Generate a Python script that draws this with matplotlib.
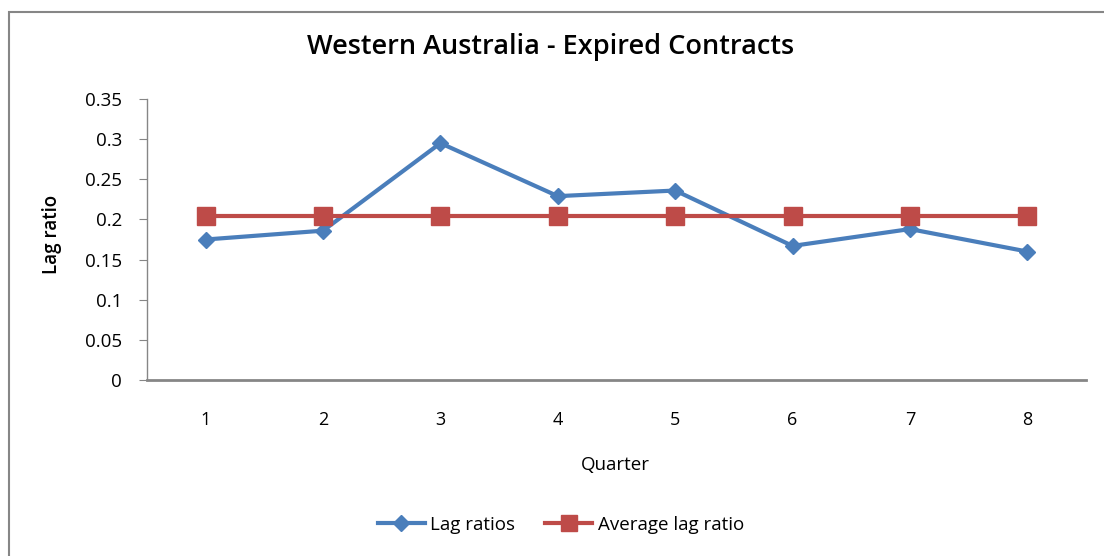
import matplotlib
matplotlib.use("Agg")
import matplotlib.pyplot as plt
from matplotlib.patches import Rectangle

# ---------------- Data ----------------
quarters = [1, 2, 3, 4, 5, 6, 7, 8]
lag_ratios = [0.175, 0.186, 0.295, 0.229, 0.236, 0.167, 0.188, 0.160]
avg_lag = [0.2045] * 8
y_ticks = [0, 0.05, 0.1, 0.15, 0.2, 0.25, 0.3, 0.35]
y_labels = ["0", "0.05", "0.1", "0.15", "0.2", "0.25", "0.3", "0.35"]

blue = "#4A7EBB"
red = "#BE4B48"
grey = "#868686"

plt.rcParams["font.family"] = ["Open Sans", "DejaVu Sans"]

fig = plt.figure(figsize=(11.04, 5.56), dpi=100)
# chart area border (left and top visible in the crop)
fig.patches.append(Rectangle((9 / 1104, -0.1), 1.2, 1.1 - 12 / 556,
                             transform=fig.transFigure, fill=False,
                             edgecolor=grey, linewidth=1.5))

ax = fig.add_axes([147 / 1104, 1 - 380 / 556, (1086 - 147) / 1104, (380 - 99) / 556])

ax.plot(quarters, lag_ratios, color=blue, linewidth=3, marker="D",
        markersize=8.5, label="Lag ratios")
ax.plot(quarters, avg_lag, color=red, linewidth=3, marker="s",
        markersize=13, label="Average lag ratio")

ax.set_xlim(0.5, 8.5)
ax.set_ylim(0, 0.35)
ax.set_yticks(y_ticks)
ax.set_yticklabels(y_labels)
ax.set_xticks(quarters)
ax.tick_params(axis="y", length=6, color=grey, labelsize=13.5, pad=12)
ax.tick_params(axis="x", length=0, labelsize=13, pad=22)

for s in ["top", "right"]:
    ax.spines[s].set_visible(False)
for s in ["left", "bottom"]:
    ax.spines[s].set_color(grey)
ax.spines["left"].set_linewidth(1)
ax.spines["bottom"].set_linewidth(2)

fig.text(551 / 1104, 1 - 47 / 556, "Western Australia - Expired Contracts",
         ha="center", va="center", fontsize=19.5, fontweight="semibold")
fig.text(52 / 1104, 1 - 234 / 556, "Lag ratio", rotation=90, ha="center",
         va="center", fontsize=13.5, fontweight="semibold")
fig.text(615 / 1104, 1 - 465 / 556, "Quarter", ha="center", va="center",
         fontsize=13.5)

fig.legend(loc="center", bbox_to_anchor=(561 / 1104, 1 - 525 / 556), ncol=2,
           frameon=False, fontsize=13.5, handlelength=2.5, columnspacing=1.6,
           handletextpad=0.3, markerscale=0.9)

fig.savefig("out.png", dpi=100)
